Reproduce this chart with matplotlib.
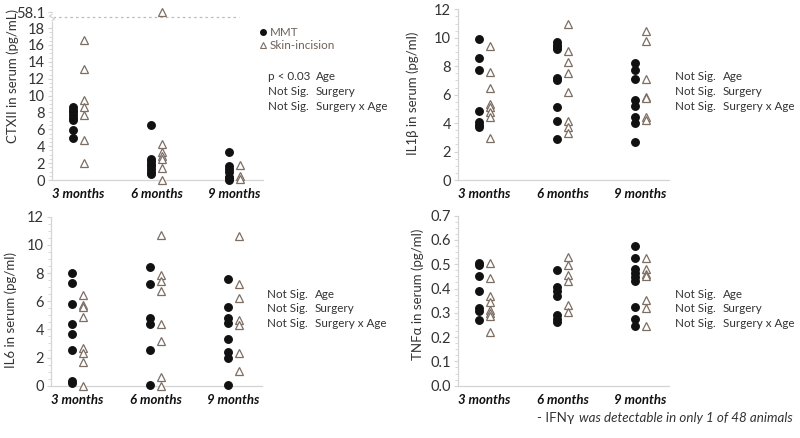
import numpy as np
import matplotlib
matplotlib.use("Agg")
import matplotlib.pyplot as plt
from matplotlib.lines import Line2D

plt.rcParams['font.family'] = ['Lato', 'DejaVu Sans']

categories = ["3 months", "6 months", "9 months"]

# CTXII (pg/mL)
ctx_mmt = [[8.6, 8.3, 8.0, 7.7, 7.4, 7.1, 5.9, 5.0],
           [6.5, 2.5, 2.2, 1.9, 1.6, 1.3, 1.0, 0.7],
           [3.3, 1.6, 1.3, 1.0, 0.4, 0.2, 0.0]]
ctx_si = [[16.6, 13.1, 9.5, 8.7, 7.7, 4.7, 2.0],
          [58.1, 4.3, 3.3, 2.9, 2.5, 1.4, 0.0],
          [1.8, 0.5, 0.1]]
# IL1beta (pg/ml)
il1_mmt = [[9.9, 8.55, 7.75, 4.85, 4.05, 3.85, 3.7],
           [9.7, 9.5, 9.35, 9.2, 7.15, 7.0, 5.15, 4.15, 2.9],
           [8.2, 7.7, 7.1, 5.6, 5.2, 4.45, 4.0, 2.7]]
il1_si = [[9.45, 7.6, 6.5, 5.35, 5.1, 4.8, 4.45, 2.95],
          [11.0, 9.05, 8.3, 7.55, 6.2, 4.15, 3.75, 3.3],
          [10.45, 9.8, 7.1, 5.85, 5.75, 4.4, 4.2]]
# IL6 (pg/ml)
il6_mmt = [[8.0, 7.3, 5.8, 4.35, 3.7, 2.5, 0.3, 0.2],
           [8.4, 7.2, 4.8, 4.4, 2.55, 0.05],
           [7.55, 5.6, 4.8, 4.45, 3.3, 2.4, 1.95, 0.05]]
il6_si = [[6.45, 5.75, 5.6, 4.9, 2.65, 2.35, 1.65, 0.0],
          [10.7, 7.85, 7.4, 6.7, 4.35, 3.2, 0.65, 0.0],
          [10.6, 7.2, 6.25, 4.65, 4.3, 2.35, 1.05]]
# TNFalpha (pg/ml)
tnf_mmt = [[0.505, 0.495, 0.452, 0.39, 0.318, 0.308, 0.27],
           [0.475, 0.405, 0.39, 0.37, 0.29, 0.274, 0.262],
           [0.576, 0.527, 0.48, 0.463, 0.446, 0.432, 0.325, 0.274, 0.246]]
tnf_si = [[0.506, 0.442, 0.37, 0.346, 0.31, 0.298, 0.288, 0.22],
          [0.531, 0.497, 0.456, 0.431, 0.332, 0.302],
          [0.527, 0.48, 0.462, 0.451, 0.353, 0.321, 0.246]]

stats_ctx = [("p < 0.03", "Age"), ("Not Sig.", "Surgery"), ("Not Sig.", "Surgery x Age")]
stats_ns = [("Not Sig.", "Age"), ("Not Sig.", "Surgery"), ("Not Sig.", "Surgery x Age")]

W, H = 800, 438
fig = plt.figure(figsize=(8, 4.38), dpi=100)

SPINE = '#d4d4d4'
TRI = '#7d6e64'
DOT = '#111111'
TXT = '#333333'

def add_ax(left_px, y0_px, h_px, w_px=210.6):
    return fig.add_axes([left_px / W, 1 - y0_px / H, w_px / W, h_px / H])

def style(ax, ylabel, lab_xy):
    for s in ['top', 'right']:
        ax.spines[s].set_visible(False)
    for s in ['left', 'bottom']:
        ax.spines[s].set_color(SPINE)
        ax.spines[s].set_linewidth(0.9)
    ax.set_xlim(0.66, 3.36)
    ax.set_xticks([1, 2, 3])
    ax.set_xticklabels(categories, fontsize=9.5, fontweight='bold', style='italic', color='#111111')
    ax.tick_params(axis='x', length=0, pad=6)
    ax.tick_params(axis='y', which='major', length=3, color=SPINE, labelsize=10.5, labelcolor=TXT, pad=2)
    ax.tick_params(axis='y', which='minor', length=2, color=SPINE)
    ax.set_ylabel(ylabel, fontsize=9.5, color=TXT)
    ax.yaxis.set_label_coords(*lab_xy)

def scatter(ax, mmt, si):
    off = 0.072
    for i, (a, b) in enumerate(zip(mmt, si)):
        ax.plot(np.full(len(a), i + 1 - off), a, 'o', ms=5.4, color=DOT, clip_on=False, zorder=3)
        ax.plot(np.full(len(b), i + 1 + off), b, '^', ms=5.8, mfc='white', mec=TRI, mew=0.9,
                clip_on=False, zorder=3)

def stats(x_px, y_px, rows, dx=48, dy=14.8):
    for k, (a, b) in enumerate(rows):
        y = 1 - (y_px + k * dy) / H
        fig.text(x_px / W, y, a, fontsize=8.4, color=TXT, va='center')
        fig.text((x_px + dx) / W, y, b, fontsize=8.4, color=TXT, va='center')

# ---- CTXII with broken axis ----
def fwd(v):
    v = np.asarray(v, dtype=float)
    return np.where(v <= 18, v, 18 + (v - 18) * 1.9 / 40.1)

def inv(u):
    u = np.asarray(u, dtype=float)
    return np.where(u <= 18, u, 18 + (u - 18) * 40.1 / 1.9)

ax1 = add_ax(52, 180, 21 * 8.44)
ax1.set_yscale('function', functions=(fwd, inv))
ax1.set_ylim(0, inv(21.0))
scatter(ax1, ctx_mmt, ctx_si)
ax1.set_yticks(list(range(0, 19, 2)) + [58.1])
ax1.set_yticklabels([str(t) for t in range(0, 19, 2)] + ["58.1"])
ax1.set_yticks(np.arange(0, 18.01, 0.5), minor=True)
ax1.spines['left'].set_bounds(0, 58.1)
style(ax1, "CTXII in serum (pg/mL)", (-0.158, 0.585))
ax1.axhline(inv(19.35), xmin=0.005, xmax=0.89, color='#bbbbbb', lw=0.9, ls=(0, (2, 2.5)))
# axis break mark
bt = ax1.get_yaxis_transform()
ax1.plot([0, 0], [inv(18.9), inv(19.6)], color='white', lw=3, transform=bt, clip_on=False, zorder=4)
ax1.plot([0.0, 0.012, -0.012, 0.0], [inv(18.85), inv(19.1), inv(19.4), inv(19.65)],
         color=SPINE, lw=0.9, transform=bt, clip_on=False, zorder=5)

legend_handles = [Line2D([], [], marker='o', ls='none', ms=4, color=DOT),
                  Line2D([], [], marker='^', ls='none', ms=4.5, mfc='white', mec=TRI, mew=0.8)]
fig.legend(legend_handles, ["MMT", "Skin-incision"], loc='upper left',
           bbox_to_anchor=(259 / W, 1 - 27 / H), frameon=False, fontsize=8.4,
           labelcolor='#6e6158', handlelength=0.6, handletextpad=0.35, labelspacing=0.2,
           borderpad=0, borderaxespad=0)
stats(268, 77, stats_ctx)

# ---- IL1beta ----
ax2 = add_ax(458, 180, 170.7)
ax2.set_ylim(0, 12)
scatter(ax2, il1_mmt, il1_si)
ax2.set_yticks(range(0, 13, 2))
ax2.set_yticks(np.arange(0, 12.01, 0.5), minor=True)
style(ax2, "IL1\u03b2 in serum (pg/ml)", (-0.185, 0.51))
stats(675, 77, stats_ns)

# ---- IL6 ----
ax3 = add_ax(51, 385.7, 169)
ax3.set_ylim(0, 12)
scatter(ax3, il6_mmt, il6_si)
ax3.set_yticks(range(0, 13, 2))
ax3.set_yticks(np.arange(0, 12.01, 0.5), minor=True)
style(ax3, "IL6 in serum (pg/ml)", (-0.16, 0.45))
stats(267, 294, stats_ns)

# ---- TNFalpha ----
ax4 = add_ax(458, 385.7, 170)
ax4.set_ylim(0, 0.7)
scatter(ax4, tnf_mmt, tnf_si)
ax4.set_yticks(np.arange(0, 0.71, 0.1))
ax4.set_yticklabels([f"{t:.1f}" for t in np.arange(0, 0.71, 0.1)])
ax4.set_yticks(np.arange(0, 0.701, 0.025), minor=True)
style(ax4, "TNF\u03b1 in serum (pg/ml)", (-0.16, 0.54))
stats(675, 294, stats_ns)

# footnote
t1 = fig.text(537 / W, 1 - 418 / H, "- IFN\u03b3", fontsize=9.6, color=TXT, va='center')
fig.canvas.draw()
bb = t1.get_window_extent()
fig.text((bb.x1 + 4.5) / W, 1 - 418 / H, "was detectable in only 1 of 48 animals", fontsize=9.6,
         color=TXT, va='center', style='italic')

fig.savefig("out.png", dpi=100)
